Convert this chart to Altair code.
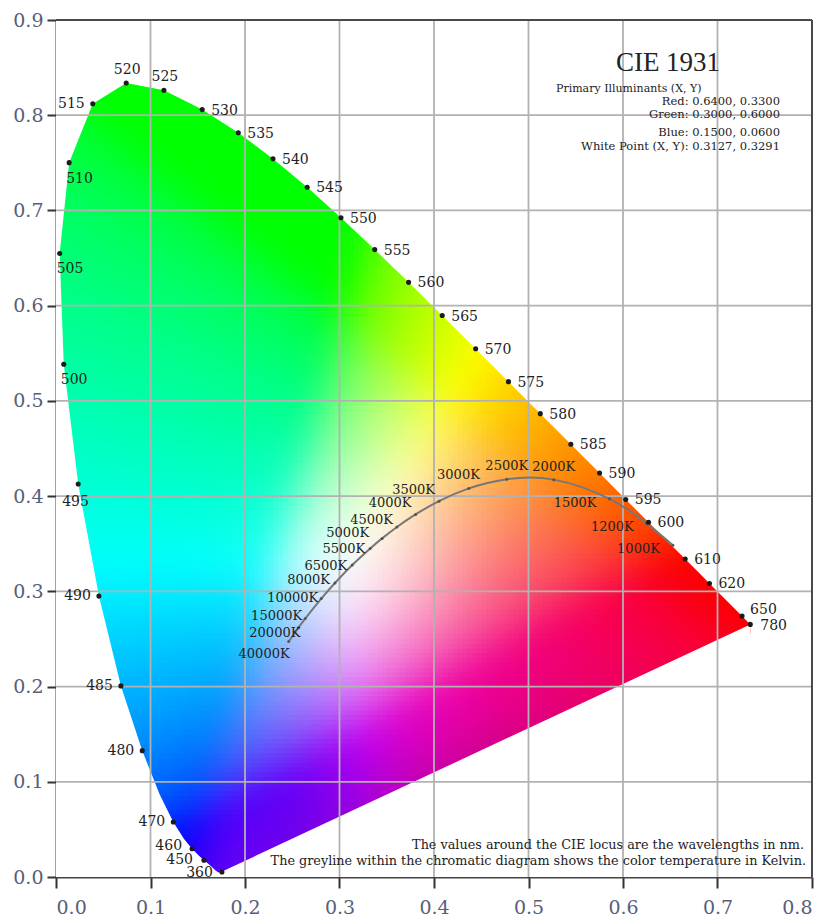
import numpy as np
import pandas as pd
import altair as alt

# ---- axis ticks -------------------------------------------------------------
X_TICKS = [0.0, 0.1, 0.2, 0.3, 0.4, 0.5, 0.6, 0.7, 0.8]
Y_TICKS = [0.0, 0.1, 0.2, 0.3, 0.4, 0.5, 0.6, 0.7, 0.8, 0.9]

# ---- labelled points on the spectral locus (nm, CIE 1931 x, y) -------------
WL_NM = [360, 450, 460, 470, 480, 485, 490, 495, 500, 505, 510, 515, 520, 525,
         530, 535, 540, 545, 550, 555, 560, 565, 570, 575, 580, 585, 590, 595,
         600, 610, 620, 650, 780]
WL_X = [0.1756, 0.1566, 0.1440, 0.1241, 0.0913, 0.0687, 0.0454, 0.0235, 0.0082,
        0.0039, 0.0139, 0.0389, 0.0743, 0.1142, 0.1547, 0.1929, 0.2296, 0.2658,
        0.3016, 0.3373, 0.3731, 0.4087, 0.4441, 0.4788, 0.5125, 0.5448, 0.5752,
        0.6029, 0.6270, 0.6658, 0.6915, 0.7260, 0.7347]
WL_Y = [0.0053, 0.0177, 0.0297, 0.0578, 0.1327, 0.2007, 0.2950, 0.4127, 0.5384,
        0.6548, 0.7502, 0.8120, 0.8338, 0.8262, 0.8059, 0.7816, 0.7543, 0.7243,
        0.6923, 0.6589, 0.6245, 0.5896, 0.5547, 0.5202, 0.4866, 0.4544, 0.4242,
        0.3965, 0.3725, 0.3340, 0.3083, 0.2740, 0.2653]

# ---- spectral locus outline of the coloured area ---------------------------
LOCUS_NM = [380, 400, 420, 430, 435, 440, 445, 450, 455, 460, 465, 470, 475, 480,
            485, 490, 495, 500, 505, 510, 515, 520, 525, 530, 535, 540, 545, 550,
            555, 560, 565, 570, 575, 580, 585, 590, 595, 600, 605, 610, 615, 620,
            630, 640, 650, 660, 680, 700]
LOCUS_X = [0.1741, 0.1733, 0.1714, 0.1689, 0.1669, 0.1644, 0.1611, 0.1566, 0.1510,
           0.1440, 0.1355, 0.1241, 0.1096, 0.0913, 0.0687, 0.0454, 0.0235, 0.0082,
           0.0039, 0.0139, 0.0389, 0.0743, 0.1142, 0.1547, 0.1929, 0.2296, 0.2658,
           0.3016, 0.3373, 0.3731, 0.4087, 0.4441, 0.4788, 0.5125, 0.5448, 0.5752,
           0.6029, 0.6270, 0.6482, 0.6658, 0.6801, 0.6915, 0.7079, 0.7190, 0.7260,
           0.7300, 0.7334, 0.7347]
LOCUS_Y = [0.0050, 0.0048, 0.0051, 0.0069, 0.0086, 0.0109, 0.0138, 0.0177, 0.0227,
           0.0297, 0.0399, 0.0578, 0.0868, 0.1327, 0.2007, 0.2950, 0.4127, 0.5384,
           0.6548, 0.7502, 0.8120, 0.8338, 0.8262, 0.8059, 0.7816, 0.7543, 0.7243,
           0.6923, 0.6589, 0.6245, 0.5896, 0.5547, 0.5202, 0.4866, 0.4544, 0.4242,
           0.3965, 0.3725, 0.3514, 0.3340, 0.3197, 0.3083, 0.2920, 0.2809, 0.2740,
           0.2700, 0.2666, 0.2653]

# ---- black-body (Planckian) locus ------------------------------------------
CCT_LABELS = ["40000K", "20000K", "15000K", "10000K", "8000K", "6500K", "5500K",
              "5000K", "4500K", "4000K", "3500K", "3000K", "2500K", "2000K",
              "1500K", "1200K", "1000K"]
CCT_X = [0.2462, 0.2565, 0.2637, 0.2807, 0.2952, 0.3135, 0.3325, 0.3451, 0.3608,
         0.3805, 0.4053, 0.4369, 0.4770, 0.5267, 0.5857, 0.6251, 0.6528]
CCT_Y = [0.2473, 0.2617, 0.2714, 0.2924, 0.3088, 0.3277, 0.3451, 0.3556, 0.3676,
         0.3808, 0.3947, 0.4081, 0.4177, 0.4173, 0.3971, 0.3714, 0.3484]

TITLE = "CIE 1931"
PRIMARY_LINES = ["Primary Illuminants (X, Y)", "Red: 0.6400, 0.3300",
                 "Green: 0.3000, 0.6000", "Blue: 0.1500, 0.0600",
                 "White Point (X, Y): 0.3127, 0.3291"]
NOTE_LINES = ["The values around the CIE locus are the wavelengths in nm.",
              "The greyline within the chromatic diagram shows the color temperature in Kelvin."]

# ---- layout / style ---------------------------------------------------------
W, H = 756, 857
XMAX, YMAX = X_TICKS[-1], Y_TICKS[-1]
SERIF = "DejaVu Serif"
STEP = 0.005


def xy_to_srgb(x, y):
    """Chromaticity -> display sRGB (Y = 1, clipped and max-normalised)."""
    X = x / y
    Z = (1.0 - x - y) / y
    M = np.array([[3.2406, -1.5372, -0.4986],
                  [-0.9689, 1.8758, 0.0415],
                  [0.0557, -0.2040, 1.0570]])
    xyz = np.stack([X, np.ones_like(X), Z], axis=-1)
    lin = np.clip(xyz @ M.T, 0.0, None)
    lin = lin / lin.max(axis=-1, keepdims=True)
    return np.where(lin <= 0.0031308, 12.92 * lin,
                    1.055 * np.power(lin, 1 / 2.4) - 0.055)


def box_blur(img, r, passes):
    out = img.copy()
    for _ in range(passes):
        for axis in (0, 1):
            pad = [(0, 0)] * out.ndim
            pad[axis] = (r, r)
            p = np.pad(out, pad, mode="edge")
            c = np.cumsum(p, axis=axis)
            c = np.concatenate([np.zeros_like(np.take(c, [0], axis=axis)), c], axis=axis)
            n = out.shape[axis]
            hi = np.take(c, np.arange(2 * r + 1, 2 * r + 1 + n), axis=axis)
            lo = np.take(c, np.arange(0, n), axis=axis)
            out = (hi - lo) / (2 * r + 1)
    return out


def inside_polygon(px, py, vx, vy):
    inside = np.zeros(px.shape, dtype=bool)
    n = len(vx)
    j = n - 1
    for i in range(n):
        xi, yi, xj, yj = vx[i], vy[i], vx[j], vy[j]
        crosses = (yi > py) != (yj > py)
        xint = (xj - xi) * (py - yi) / ((yj - yi) if yj != yi else 1e-12) + xi
        inside ^= crosses & (px < xint)
        j = i
    return inside


# colour field over the whole plane, softened, then kept near the locus
gx = np.arange(0, XMAX, STEP)
gy = np.arange(0, YMAX, STEP)
GX, GY = np.meshgrid(gx, gy)
CX, CY = GX + STEP / 2, GY + STEP / 2
rgb = xy_to_srgb(CX, CY)
rgb = box_blur(rgb, 3, 3)
# soft white core around the white point
glow = 0.45 * np.exp(-((CX - 0.32) ** 2 + (CY - 0.33) ** 2) / (2 * 0.065 ** 2))
rgb = rgb + (1.0 - rgb) * glow[..., None]
# bluer, deeper purples towards the middle of the line of purples
p0x, p0y = LOCUS_X[0], LOCUS_Y[0]
p1x, p1y = LOCUS_X[-1], LOCUS_Y[-1]
nx, ny = -(p1y - p0y), (p1x - p0x)
nlen = np.hypot(nx, ny)
dist = np.clip(((CX - p0x) * nx + (CY - p0y) * ny) / nlen, 0, None)
rgb[..., 0] *= 1 - 0.4 * np.exp(-((CX - 0.25) ** 2 + (CY - 0.08) ** 2) / (2 * 0.08 ** 2))
shade = 0.16 * np.exp(-dist / 0.07) * np.exp(-((CX - 0.42) / 0.2) ** 2)
rgb *= (1 - shade)[..., None]
rgb = np.clip(np.round(rgb * 255), 0, 255).astype(int)

inside = inside_polygon(CX, CY, np.array(LOCUS_X), np.array(LOCUS_Y))
grown = inside.copy()
for sx in (-1, 0, 1):
    for sy in (-1, 0, 1):
        grown |= np.roll(np.roll(inside, sx, axis=1), sy, axis=0)
field = pd.DataFrame({
    "x": np.round(GX[grown], 4),
    "y": np.round(GY[grown], 4),
    "c": ["#%02x%02x%02x" % tuple(v) for v in rgb[grown]],
})

# white masks trimming the field to the locus outline
i505 = LOCUS_NM.index(505)
upper = pd.DataFrame({
    "x": [0.0] + LOCUS_X[i505:] + [LOCUS_X[-1] + 0.0001, XMAX],
    "y": [0.0] + LOCUS_Y[i505:] + [0.0, 0.0],
})
lower = pd.DataFrame({
    "x": [0.0] + LOCUS_X[:i505 + 1][::-1] + [LOCUS_X[-1]],
    "y": [YMAX] + LOCUS_Y[:i505 + 1][::-1] + [LOCUS_Y[-1]],
})

wl = pd.DataFrame({"nm": WL_NM, "x": WL_X, "y": WL_Y, "t": [str(v) for v in WL_NM]})
cct = pd.DataFrame({"x": CCT_X, "y": CCT_Y, "t": CCT_LABELS})

xs = alt.Scale(domain=[0, XMAX], nice=False, zero=False)
ys = alt.Scale(domain=[0, YMAX], nice=False, zero=False)
x_axis = alt.Axis(values=X_TICKS, format=".1f", title=None, grid=False)
y_axis = alt.Axis(values=Y_TICKS, format=".1f", title=None, grid=False)


def X(f="x"):
    return alt.X(f"{f}:Q", scale=xs, axis=x_axis)


def Y(f="y"):
    return alt.Y(f"{f}:Q", scale=ys, axis=y_axis)


colour = alt.Chart(field).transform_calculate(
    x2=f"datum.x + {STEP * 1.25}", y2=f"datum.y + {STEP * 1.25}"
).mark_rect(strokeWidth=0).encode(
    x=X(), x2="x2:Q", y=Y(), y2="y2:Q", color=alt.Color("c:N", scale=None)
)

mask_up = alt.Chart(upper).mark_area(color="white", opacity=1).encode(
    x=X(), y=Y(), y2=alt.datum(YMAX))
mask_lo = alt.Chart(lower).mark_area(color="white", opacity=1).encode(
    x=X(), y=Y(), y2=alt.datum(0.0))

grid_x = alt.Chart(pd.DataFrame({"v": X_TICKS[1:-1]})).mark_rule(
    color="#b2b2b2", strokeWidth=1.8).encode(x=X("v"))
grid_y = alt.Chart(pd.DataFrame({"v": Y_TICKS[1:-1]})).mark_rule(
    color="#b2b2b2", strokeWidth=1.8).encode(y=Y("v"))
frame_r = alt.Chart(pd.DataFrame({"v": [XMAX]})).mark_rule(
    color="#4a4a4a", strokeWidth=2).encode(x=X("v"))
frame_t = alt.Chart(pd.DataFrame({"v": [YMAX]})).mark_rule(
    color="#4a4a4a", strokeWidth=2).encode(y=Y("v"))

planck = alt.Chart(cct).mark_line(
    color="#777777", strokeWidth=2, interpolate="natural").encode(
    x=X(), y=Y(), order="x:Q")
planck_pts = alt.Chart(cct).mark_circle(size=9, color="#555555", opacity=1).encode(
    x=X(), y=Y())
wl_pts = alt.Chart(wl).mark_circle(size=26, color="#1c1c1c", opacity=1).encode(
    x=X(), y=Y())

# label placement groups: (align, dx, dy, members)
WL_PLACE = [
    ("right", -8, 0, [470, 480, 485, 490, 515]),
    ("right", -10, -3, [460]),
    ("right", -11, 0, [450]),
    ("right", -9, 1, [360]),
    ("left", -3, 16, [500, 505, 510]),
    ("left", -16, 18, [495]),
    ("center", 1, -13, [520, 525]),
    ("left", 9, 1, [v for v in WL_NM if 530 <= v <= 620]),
    ("left", 8, -6, [650]),
    ("left", 10, 2, [780]),
]
CCT_PLACE = [
    ("right", 1, 12, ["40000K"]),
    ("right", 2, 5, ["20000K"]),
    ("right", -3, -3, ["15000K"]),
    ("right", -3, -1, ["10000K"]),
    ("right", -5, -3, ["8000K"]),
    ("right", -5, 1, ["6500K", "5500K"]),
    ("right", -13, -5, ["5000K"]),
    ("right", -4, -7, ["4500K"]),
    ("right", -4, -11, ["4000K", "3500K"]),
    ("right", 11, -13, ["3000K"]),
    ("center", 0, -13, ["2500K", "2000K"]),
    ("right", -13, 4, ["1500K", "1200K", "1000K"]),
]

label_layers = []
for align, dx, dy, members in WL_PLACE:
    sub = wl[wl["nm"].isin(members)]
    label_layers.append(alt.Chart(sub).mark_text(
        font=SERIF, fontSize=14, color="#222222", align=align, baseline="middle",
        dx=dx, dy=dy).encode(x=X(), y=Y(), text="t:N"))
for align, dx, dy, members in CCT_PLACE:
    sub = cct[cct["t"].isin(members)]
    label_layers.append(alt.Chart(sub).mark_text(
        font=SERIF, fontSize=13, color="#222222", align=align, baseline="middle",
        dx=dx, dy=dy).encode(x=X(), y=Y(), text="t:N"))


def note(text, px, py, size, align, font=SERIF):
    return alt.Chart(pd.DataFrame({"t": [text]})).mark_text(
        font=font, fontSize=size, color="#222222", align=align, baseline="middle"
    ).encode(x=alt.value(px), y=alt.value(py), text="t:N")


notes = [note(TITLE, 612, 43, 27, "center", "Liberation Serif")]
info_y = [69, 82, 95, 113, 127]
notes.append(note(PRIMARY_LINES[0], 500, info_y[0], 11, "left"))
for line, py in zip(PRIMARY_LINES[1:], info_y[1:]):
    notes.append(note(line, 724, py, 11.5, "right"))
notes.append(note(NOTE_LINES[0], 748, 825, 12.8, "right"))
notes.append(note(NOTE_LINES[1], 750, 841, 12.8, "right"))

chart = alt.layer(
    colour, mask_up, mask_lo, grid_x, grid_y, frame_r, frame_t,
    planck, planck_pts, wl_pts, *label_layers, *notes
).properties(
    width=W, height=H,
    autosize=alt.AutoSizeParams(type="none"),
    padding={"left": 56, "top": 20, "right": 14, "bottom": 39},
    background="white",
).configure_view(stroke=None).configure_axis(
    labelFont=SERIF, labelFontSize=19, labelColor="#56607a",
    domainColor="#444444", domainWidth=2, tickColor="#333333", tickWidth=2,
    zindex=1,
).configure_axisX(tickSize=11, labelPadding=10).configure_axisY(
    tickSize=9, labelPadding=4)

chart.save("out.html", embed_options={"renderer": "svg", "actions": False})
